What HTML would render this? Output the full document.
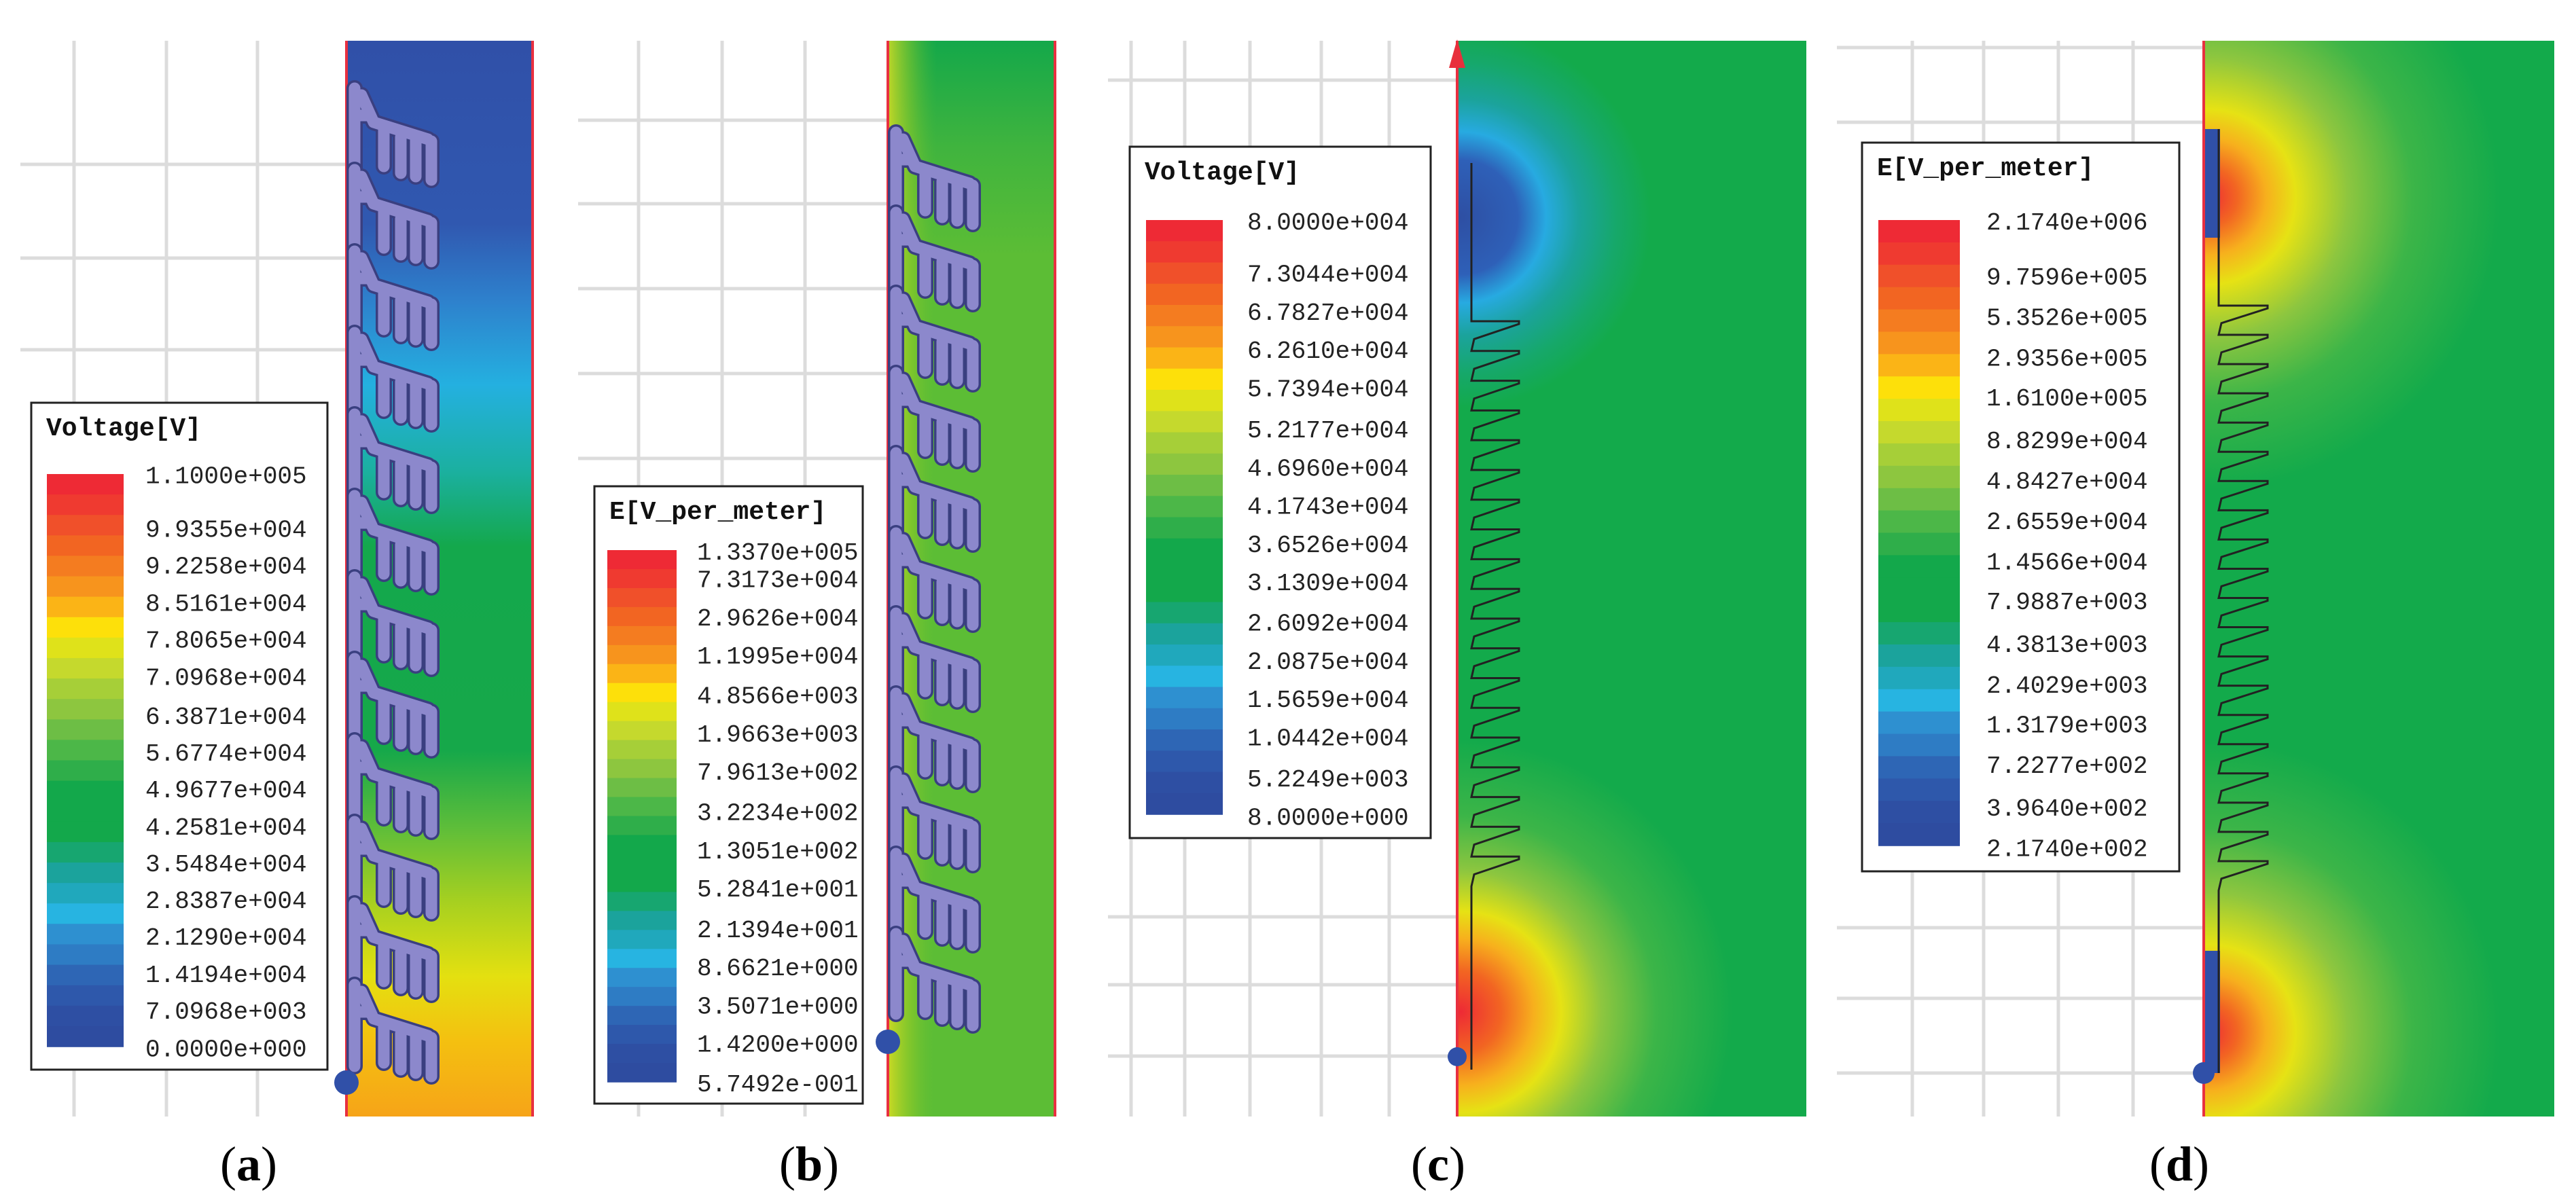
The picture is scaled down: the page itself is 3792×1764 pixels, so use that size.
<!DOCTYPE html>
<html><head><meta charset="utf-8"><style>
html,body{margin:0;padding:0;background:#fff;overflow:hidden;}
svg{display:block;}
.lbl{font-family:"Liberation Mono","DejaVu Sans Mono",monospace;font-size:36px;fill:#222;}
.ttl{font-family:"Liberation Mono","DejaVu Sans Mono",monospace;font-size:38px;font-weight:bold;fill:#111;}
.cap{font-family:"Liberation Serif",serif;font-size:72px;fill:#000;}
</style></head><body>
<svg id="fig" width="3792" height="1764" viewBox="0 0 3792 1764" xmlns="http://www.w3.org/2000/svg">
<defs>
<clipPath id="clipA"><rect x="510" y="60" width="274" height="1584"/></clipPath>
<clipPath id="clipB"><rect x="1307" y="60" width="246" height="1584"/></clipPath>
<clipPath id="clipC"><rect x="2145" y="60" width="514" height="1584"/></clipPath>
<clipPath id="clipD"><rect x="3244" y="60" width="516" height="1584"/></clipPath>
<linearGradient id="gA" x1="0" y1="0" x2="0" y2="1">
<stop offset="0" stop-color="#3050a8"/><stop offset="0.17" stop-color="#3058b0"/>
<stop offset="0.24" stop-color="#2e80cc"/><stop offset="0.32" stop-color="#24b0e0"/>
<stop offset="0.4" stop-color="#1bb0a0"/><stop offset="0.47" stop-color="#14a84c"/>
<stop offset="0.66" stop-color="#16a84a"/><stop offset="0.73" stop-color="#5cbd3a"/>
<stop offset="0.8" stop-color="#a6d020"/><stop offset="0.87" stop-color="#e4e010"/>
<stop offset="0.93" stop-color="#f4c010"/><stop offset="1" stop-color="#f6a418"/>
</linearGradient>
<linearGradient id="gB" x1="0" y1="0" x2="0" y2="1">
<stop offset="0" stop-color="#14a84a"/><stop offset="0.1" stop-color="#40b43e"/>
<stop offset="0.2" stop-color="#5cbd35"/><stop offset="1" stop-color="#5cbd35"/>
</linearGradient>
<linearGradient id="gBl" x1="0" y1="0" x2="1" y2="0">
<stop offset="0" stop-color="#e8e020" stop-opacity="0.8"/><stop offset="0.3" stop-color="#a8d020" stop-opacity="0.4"/><stop offset="0.6" stop-color="#5cbd35" stop-opacity="0"/>
</linearGradient>
<radialGradient id="rBlue" gradientUnits="userSpaceOnUse" cx="2150" cy="320" r="280">
<stop offset="0" stop-color="#2e4fa3"/><stop offset="0.3" stop-color="#2e60b8"/><stop offset="0.45" stop-color="#27aae1"/><stop offset="0.62" stop-color="#1ba39c"/><stop offset="0.82" stop-color="#16a86a"/><stop offset="1" stop-color="#13aa4b"/>
</radialGradient>
<radialGradient id="rRedC" gradientUnits="userSpaceOnUse" cx="2150" cy="1490" r="400">
<stop offset="0" stop-color="#ee2a35"/><stop offset="0.15" stop-color="#f26522"/><stop offset="0.27" stop-color="#f7b01d"/><stop offset="0.37" stop-color="#e6e214"/><stop offset="0.52" stop-color="#8dc63f"/><stop offset="0.72" stop-color="#3cb548"/><stop offset="1" stop-color="#13aa4b"/>
</radialGradient>
<radialGradient id="rRedD1" gradientUnits="userSpaceOnUse" cx="3250" cy="290" r="430">
<stop offset="0" stop-color="#ee2a35"/><stop offset="0.1" stop-color="#f26522"/><stop offset="0.2" stop-color="#f7b01d"/><stop offset="0.3" stop-color="#e6e214"/><stop offset="0.48" stop-color="#8dc63f"/><stop offset="0.7" stop-color="#3cb548"/><stop offset="1" stop-color="#13aa4b"/>
</radialGradient>
<radialGradient id="rRedD2" gradientUnits="userSpaceOnUse" cx="3250" cy="1520" r="430">
<stop offset="0" stop-color="#ee2a35"/><stop offset="0.1" stop-color="#f26522"/><stop offset="0.2" stop-color="#f7b01d"/><stop offset="0.3" stop-color="#e6e214"/><stop offset="0.48" stop-color="#8dc63f"/><stop offset="0.7" stop-color="#3cb548"/><stop offset="1" stop-color="#13aa4b"/>
</radialGradient>
</defs>
<g id="grids" stroke="#dcdcdc" stroke-width="5" fill="none"></g>
<g id="strips"></g>
<g id="legends"></g>
<g id="caps"></g>
</svg>
<script>
const NS="http://www.w3.org/2000/svg";
const svg=document.getElementById('fig');
function mk(tag,attrs,parent){const e=document.createElementNS(NS,tag);for(const k in attrs)e.setAttribute(k,attrs[k]);(parent||svg).appendChild(e);return e;}

const labelsA=["1.1000e+005","9.9355e+004","9.2258e+004","8.5161e+004","7.8065e+004","7.0968e+004","6.3871e+004","5.6774e+004","4.9677e+004","4.2581e+004","3.5484e+004","2.8387e+004","2.1290e+004","1.4194e+004","7.0968e+003","0.0000e+000"];
const labelsB=["1.3370e+005","7.3173e+004","2.9626e+004","1.1995e+004","4.8566e+003","1.9663e+003","7.9613e+002","3.2234e+002","1.3051e+002","5.2841e+001","2.1394e+001","8.6621e+000","3.5071e+000","1.4200e+000","5.7492e-001"];
const labelsC=["8.0000e+004","7.3044e+004","6.7827e+004","6.2610e+004","5.7394e+004","5.2177e+004","4.6960e+004","4.1743e+004","3.6526e+004","3.1309e+004","2.6092e+004","2.0875e+004","1.5659e+004","1.0442e+004","5.2249e+003","8.0000e+000"];
const labelsD=["2.1740e+006","9.7596e+005","5.3526e+005","2.9356e+005","1.6100e+005","8.8299e+004","4.8427e+004","2.6559e+004","1.4566e+004","7.9887e+003","4.3813e+003","2.4029e+003","1.3179e+003","7.2277e+002","3.9640e+002","2.1740e+002"];
const titles=["Voltage[V]","E[V_per_meter]","Voltage[V]","E[V_per_meter]"];
const captions=["a","b","c","d"];

const G=document.getElementById('grids');
function grid(x0,x1,y0,y1,xs,ys){
  xs.forEach(x=>{const l=mk('line',{x1:x,x2:x,y1:y0,y2:y1},G);});
  ys.forEach(y=>{const l=mk('line',{x1:x0,x2:x1,y1:y,y2:y},G);});
}
grid(30,510,60,1644,[109,245,379],[242,380,515]);
grid(851,1307,60,1644,[940,1063,1185],[177,300,425,550,675]);
grid(1631,2145,60,1644,[1665,1744,1840,1945,2045],[118,1350,1450,1555]);
grid(2704,3244,60,1644,[2815,2920,3030,3140],[70,180,1366,1470,1580]);

const S=document.getElementById('strips');
function rect(x,y,w,h,fill,name,clip){const r=mk('rect',{x:x,y:y,width:w,height:h,fill:fill},S);if(clip)r.setAttribute('clip-path',clip);return r;}
rect(510,60,274,1584,'url(#gA)','field-a');
rect(1307,60,246,1584,'url(#gB)','field-b');
rect(1307,60,120,1584,'url(#gBl)','field-b-edge');
rect(2145,60,514,1584,'#13aa4b','field-c');
rect(2145,0,300,620,'url(#rBlue)','field-c-low','url(#clipC)');
rect(2145,1080,420,684,'url(#rRedC)','field-c-high','url(#clipC)');
rect(3244,60,516,1584,'#13aa4b','field-d');
rect(3244,0,440,740,'url(#rRedD1)','field-d-top','url(#clipD)');
rect(3244,1080,440,684,'url(#rRedD2)','field-d-bottom','url(#clipD)');
[[510,60,1644],[784,60,1644],[1307,60,1644],[1553,60,1644],[2145,60,1644],[3244,60,1644]].forEach(a=>{mk('line',{x1:a[0],x2:a[0],y1:a[1],y2:a[2],stroke:'#e83040','stroke-width':4},S);});
mk('polygon',{points:'2133,100 2157,100 2145,58',fill:'#e8303c'},S);
function fins(x0,yStart,period,n){
  const g=mk('g',{fill:'none','stroke-linejoin':'round','stroke-linecap':'round'},S);
  g.setAttribute('clip-path',x0<1000?'url(#clipA)':'url(#clipB)');
  
  for(let i=0;i<n;i++){
    const y=yStart+i*period;
    const d=`M${x0+12},${y} L${x0+12},${y+period} M${x0+22},${y+10} L${x0+40},${y+50} L${x0+120},${y+75} M${x0+55},${y+62} L${x0+55},${y+115} M${x0+80},${y+72} L${x0+80},${y+125} M${x0+102},${y+75} L${x0+102},${y+130} M${x0+125},${y+78} L${x0+125},${y+135} M${x0+12},${y+40} L${x0+30},${y+40}`;
    mk('path',{d:d,stroke:'#3a3f80','stroke-width':24},g);
    mk('path',{d:d,stroke:'#8c88cc','stroke-width':17},g);
  }
}
fins(510,130,120,12);
fins(1307,195,118,11);
mk('circle',{cx:510,cy:1594,r:18,fill:'#3050a8'},S);
mk('circle',{cx:1307,cy:1534,r:18,fill:'#3050a8'},S);
mk('circle',{cx:2145,cy:1556,r:14,fill:'#3050a8'},S);
mk('circle',{cx:3244,cy:1580,r:16,fill:'#3050a8'},S);
mk('rect',{x:3246,y:190,width:22,height:160,fill:'#3050a8'},S);
mk('rect',{x:3246,y:1400,width:22,height:180,fill:'#3050a8'},S);
function zig(xs,xt,y0,y1,n,yTop,yBot){
  let d=`M${xs},${yTop} L${xs},${y0}`;
  const p=(y1-y0)/n;
  for(let i=0;i<n;i++){const y=y0+i*p;d+=` L${xt},${y} L${xt},${y+4} L${xs+4},${y+p*0.6} L${xs},${y+p}`;}
  d+=` L${xs},${yBot}`;
  const e=mk('path',{d:d,fill:'none',stroke:'#222','stroke-width':3},S);
  
}
zig(2166,2236,473,1305,19,240,1575);
zig(3266,3338,450,1311,20,190,1580);

const L=document.getElementById('legends');
const bandColors=["#ee2a35","#ef3a30","#f0502a","#f26522","#f47c20","#f7941d","#fbb416","#fde00a","#dfe21a","#c5d92d","#a6cf38","#8dc63f","#6dbe45","#4cb748","#2fae4a","#13a84b","#13a84b","#13a84b","#17a670","#1ba39c","#20a8bc","#27b4e1","#2e90d0","#2e7cc4","#2e66b5","#2e58ab","#2e4fa3","#2e4ca0"];
function legend(x,y,w,h,title,labels,cbx,cby,cbw,cbh,lx,ly,name){
  const g=mk('g',{},L);
  
  
  mk('rect',{x:x,y:y,width:w,height:h,fill:'#fff',stroke:'#222','stroke-width':3},g);
  const t=mk('text',{x:x+22,y:y+48,class:'ttl'},g);t.textContent=title;
  const bh=cbh/bandColors.length;
  bandColors.forEach((c,i)=>{mk('rect',{x:cbx,y:cby+i*bh,width:cbw,height:bh+0.8,fill:c},g);});
  labels.forEach((s,i)=>{
    const tx=mk('text',{x:lx,y:ly[i]+12,class:'lbl'},g);
    
    
    tx.textContent=s;
  });
}
const f=1.125;
legend(46,593,436,982,titles[0],labelsA,69,698,113,843,214,[620,690,738,787,835,884,935,983,1031,1080,1128,1176,1224,1273,1321,1370].map(v=>v*f+2),'legend-a');
legend(875,716,395,909,titles[1],labelsB,894,810,102,783,1026,[720,756,806,856,908,958,1008,1061,1111,1161,1214,1264,1314,1364,1416].map(v=>v*f+2),'legend-b');
legend(1663,216,443,1018,titles[2],labelsC,1687,324,113,875,1836,[288,356,406,456,506,560,610,660,710,760,813,863,913,963,1017,1067].map(v=>v*f+2),'legend-c');
legend(2741,210,467,1073,titles[3],labelsD,2765,324,120,921,2924,[288,360,413,466,518,574,627,680,733,785,841,894,946,999,1055,1108].map(v=>v*f+2),'legend-d');

const C=document.getElementById('caps');
const capX=[366,1191,2117,3208];
captions.forEach((c,i)=>{
  const t=mk('text',{x:capX[i],y:1738,class:'cap','text-anchor':'middle'},C);
  
  
  t.innerHTML='(<tspan font-weight="bold">'+c+'</tspan>)';
});
</script>
</body></html>
